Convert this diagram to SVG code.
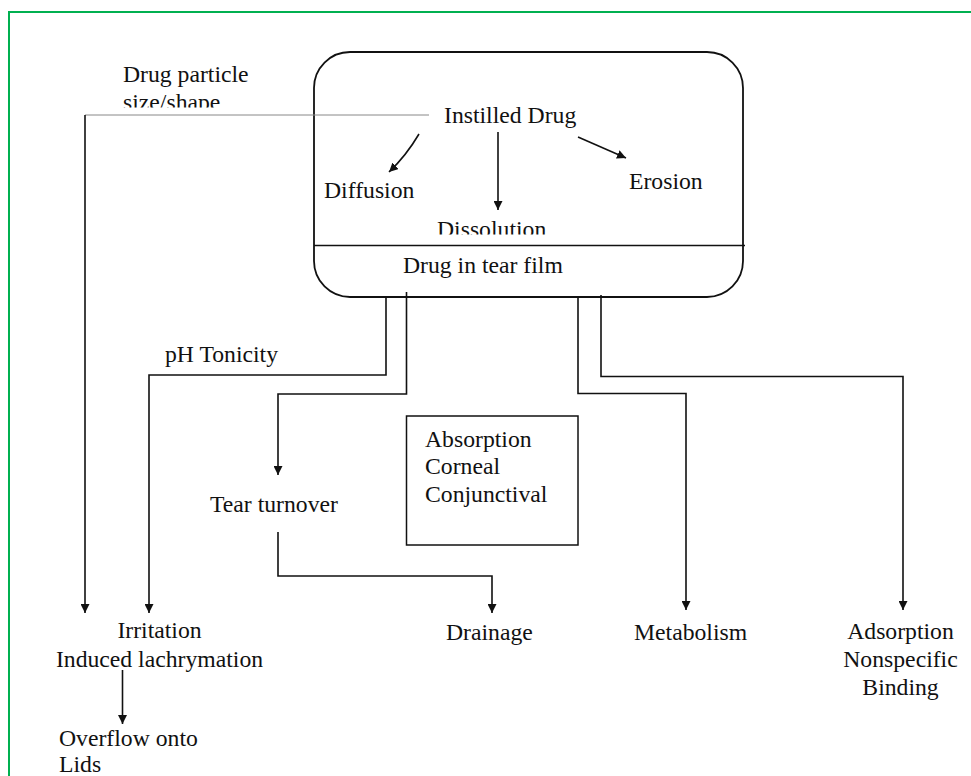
<svg xmlns="http://www.w3.org/2000/svg" width="971" height="776" viewBox="0 0 971 776">
<style>
  text { font-family: "Liberation Serif", "Times New Roman", serif; font-size: 23.7px; fill: #111; }
  .c { text-anchor: middle; }
  .ln { fill: none; stroke: #111; stroke-width: 1.6; }
  .thin { fill: none; stroke: #888; stroke-width: 1; }
  .arr { marker-end: url(#ah); }
  .frame { fill: none; stroke: #00B050; stroke-width: 2; }
</style>
<defs>
  <marker id="ah" viewBox="0 0 10 10" refX="10" refY="5" markerWidth="9" markerHeight="9" markerUnits="userSpaceOnUse" orient="auto">
    <path d="M0,0 L10,5 L0,10 z" fill="#111"/>
  </marker>
  <clipPath id="clipSize"><rect x="100" y="60" width="200" height="47.5"/></clipPath>
  <clipPath id="clipDiss"><rect x="400" y="200" width="200" height="34.5"/></clipPath>
</defs>
<rect width="971" height="776" fill="#fff"/>
<path class="frame" d="M9,776 V12 H971"/>

<g id="box">
  <rect x="314" y="52" width="429" height="245" rx="36" ry="36" fill="none" stroke="#111" stroke-width="1.8"/>
  <line x1="314" y1="245.5" x2="745" y2="245.5" stroke="#111" stroke-width="1.6"/>
</g>
<g id="instilled-drug"><text x="444" y="123">Instilled Drug</text></g>
<g id="diffusion"><text x="324" y="198">Diffusion</text></g>
<g id="dissolution"><text x="437" y="236.5" clip-path="url(#clipDiss)">Dissolution</text></g>
<g id="erosion"><text x="629" y="189">Erosion</text></g>
<g id="tear-film"><text x="403" y="273">Drug in tear film</text></g>
<g id="particle"><text x="123" y="82">Drug particle</text><text x="123" y="110" clip-path="url(#clipSize)">size/shape</text></g>
<g id="ph-tonicity"><text x="165" y="362">pH Tonicity</text></g>
<g id="tear-turnover"><text x="210" y="512">Tear turnover</text></g>
<g id="absorption">
  <rect x="406.5" y="416" width="171.5" height="129" fill="none" stroke="#111" stroke-width="1.5"/>
  <text x="425" y="447">Absorption</text>
  <text x="425" y="474">Corneal</text>
  <text x="425" y="502">Conjunctival</text>
</g>
<g id="irritation"><text x="159.5" y="638" class="c">Irritation</text><text x="159.5" y="667" class="c">Induced lachrymation</text></g>
<g id="overflow"><text x="59" y="746">Overflow onto</text><text x="59" y="772">Lids</text></g>
<g id="drainage"><text x="446" y="640">Drainage</text></g>
<g id="metabolism"><text x="634" y="640">Metabolism</text></g>
<g id="adsorption"><text x="900.5" y="639" class="c">Adsorption</text><text x="900.5" y="667" class="c">Nonspecific</text><text x="900.5" y="695" class="c">Binding</text></g>

<g id="connectors">
  <path class="thin" d="M429,115 H85"/>
  <path class="ln arr" d="M85,115 V613"/>
  <path class="ln arr" d="M419,134 Q406,156 389,172"/>
  <path class="ln arr" d="M498,132 V210"/>
  <path class="ln arr" d="M578,137 L626,158"/>
  <path class="ln arr" d="M386,297 V375 H149 V613"/>
  <path class="ln arr" d="M406.5,292 V394 H278 V475"/>
  <path class="ln arr" d="M278,532 V576 H492 V613" stroke="#333"/>
  <path class="ln arr" d="M578,297 V393.5 H686 V610"/>
  <path class="ln arr" d="M601,295 V376.5 H903 V610"/>
  <path class="ln arr" d="M122.5,670 V724"/>
</g>
</svg>
